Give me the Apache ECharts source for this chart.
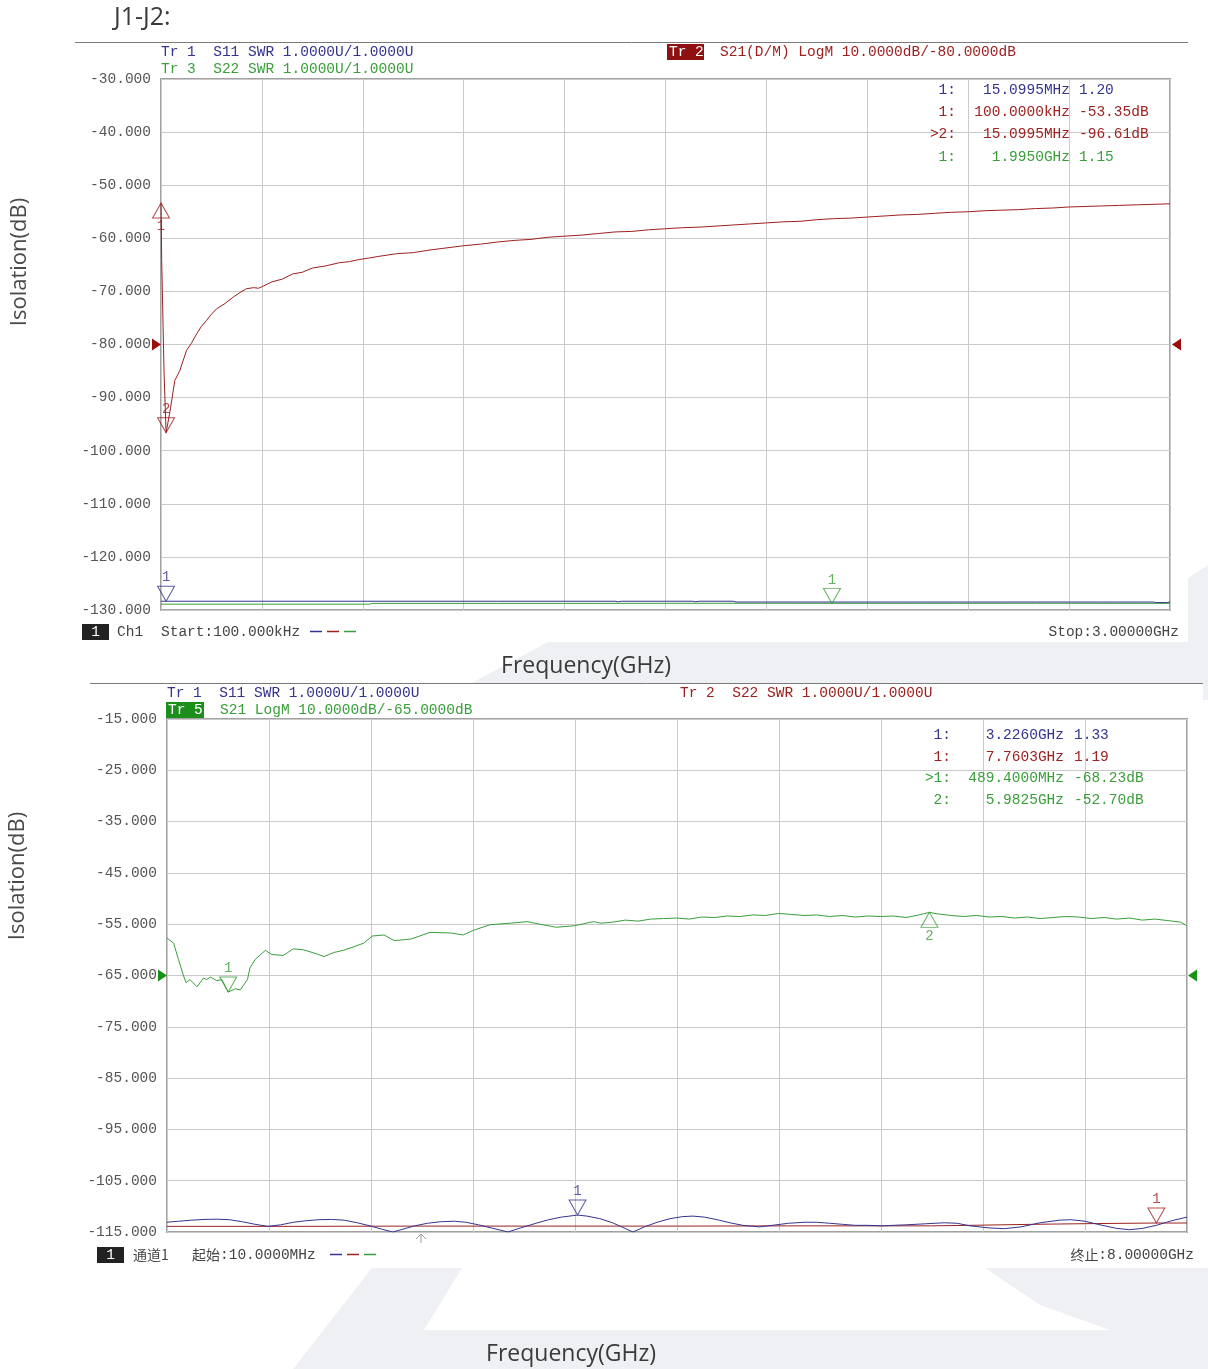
<!DOCTYPE html>
<html><head><meta charset="utf-8">
<script src="https://cdn.jsdelivr.net/npm/echarts@6/dist/echarts.min.js"></script>
<style>html,body{margin:0;padding:0;background:#fff}#c{width:1208px;height:1369px}</style>
</head><body><div id="c"></div>
<script>
// ---------- DATA ----------
// Top chart (100 kHz – 3 GHz)
const topYTicks = ['-130.000','-120.000','-110.000','-100.000','-90.000','-80.000','-70.000','-60.000','-50.000','-40.000','-30.000'];
const topS21 = [[0.0001,-53.35],[0.002,-64],[0.009,-85],[0.0151,-96.61],[0.027,-92.5],[0.041,-86.8],[0.056,-84.9],[0.076,-81.1],
 [0.09,-79.8],[0.106,-78.0],[0.12,-76.6],[0.135,-75.5],[0.15,-74.3],[0.165,-73.3],[0.19,-72.3],[0.214,-71.1],[0.235,-70.2],
 [0.254,-69.5],[0.275,-69.3],[0.29,-69.4],[0.301,-69.1],[0.33,-68.2],[0.36,-67.7],[0.392,-66.7],[0.42,-66.4],[0.45,-65.6],
 [0.49,-65.2],[0.53,-64.6],[0.56,-64.4],[0.589,-64.0],[0.62,-63.7],[0.648,-63.4],[0.70,-62.9],[0.75,-62.7],[0.80,-62.2],
 [0.85,-61.8],[0.90,-61.4],[0.95,-61.1],[1.00,-60.7],[1.05,-60.4],[1.10,-60.2],[1.15,-59.8],[1.20,-59.6],[1.25,-59.4],
 [1.30,-59.1],[1.35,-58.8],[1.40,-58.7],[1.45,-58.4],[1.50,-58.2],[1.55,-58.0],[1.60,-57.9],[1.65,-57.7],[1.70,-57.5],
 [1.75,-57.3],[1.80,-57.1],[1.85,-56.9],[1.90,-56.8],[1.95,-56.5],[2.00,-56.3],[2.05,-56.2],[2.10,-56.0],[2.15,-55.8],
 [2.20,-55.6],[2.25,-55.5],[2.30,-55.3],[2.35,-55.1],[2.40,-55.0],[2.45,-54.8],[2.50,-54.7],[2.55,-54.6],[2.60,-54.4],
 [2.65,-54.3],[2.70,-54.1],[2.75,-54.0],[2.80,-53.9],[2.85,-53.8],[2.90,-53.7],[2.95,-53.6],[3.00,-53.5]];
const topS11Swr = [[0.0001,1.165],[0.5,1.165],[1.0,1.165],[1.35,1.165],[1.36,1.155],[1.37,1.165],[1.58,1.165],[1.59,1.155],[1.60,1.165],
 [1.70,1.165],[1.71,1.15],[2.5,1.15],[2.95,1.15],[2.96,1.14],[2.99,1.14],[3.0,1.15]];
const topS22Swr = [[0.0001,1.11],[0.62,1.11],[0.63,1.125],[1.2,1.125],[1.8,1.127],[2.2,1.125],[2.6,1.127],[3.0,1.125]];
const topMarkers = [
 {yAxis:'db', f:0.0001, v:-53.35, name:'1', dir:'up', trace:'red'},
 {yAxis:'db', f:0.0151, v:-96.61, name:'2', dir:'down', trace:'red'},
 {yAxis:'swr', f:0.0151, v:1.165, name:'1', dir:'down', trace:'blue'},
 {yAxis:'swr', f:1.995, v:1.125, name:'1', dir:'down', trace:'green'}];
const topTable = [
 {pre:'1:', f:'15.0995MHz', v:'1.20', trace:'blue'},
 {pre:'1:', f:'100.0000kHz', v:'-53.35dB', trace:'red'},
 {pre:'>2:', f:'15.0995MHz', v:'-96.61dB', trace:'red'},
 {pre:'1:', f:'1.9950GHz', v:'1.15', trace:'green'}];

// Bottom chart (10 MHz – 8 GHz)
const botYTicks = ['-115.000','-105.000','-95.000','-85.000','-75.000','-65.000','-55.000','-45.000','-35.000','-25.000','-15.000'];
const botS21 = [[0.01,-57.7],[0.062,-58.7],[0.10,-61.9],[0.14,-65.1],[0.16,-66.4],[0.19,-65.8],[0.245,-67.2],[0.297,-65.5],
 [0.32,-65.8],[0.35,-65.3],[0.40,-66.0],[0.44,-65.8],[0.4894,-68.23],[0.545,-67.6],[0.584,-67.8],[0.64,-65.8],[0.66,-63.5],
 [0.70,-61.9],[0.78,-60.1],[0.83,-60.9],[0.92,-61.1],[1.00,-59.8],[1.08,-60.0],[1.16,-60.6],[1.24,-61.3],[1.32,-60.5],
 [1.39,-60.1],[1.45,-59.6],[1.55,-58.7],[1.62,-57.3],[1.71,-57.1],[1.79,-58.2],[1.92,-57.9],[2.07,-56.6],[2.23,-56.7],
 [2.33,-57.1],[2.41,-56.2],[2.54,-55.1],[2.70,-54.8],[2.83,-54.5],[2.91,-54.9],[3.06,-55.6],[3.20,-55.3],[3.35,-54.5],
 [3.41,-54.8],[3.5,-54.6],[3.6,-54.2],[3.7,-54.4],[3.8,-54.0],[3.9,-53.9],[4.0,-53.8],[4.1,-54.0],[4.2,-53.6],[4.3,-53.7],
 [4.4,-53.4],[4.5,-53.5],[4.6,-53.2],[4.7,-53.3],[4.8,-52.9],[4.9,-53.1],[5.0,-53.3],[5.1,-53.2],[5.2,-53.5],[5.3,-53.3],
 [5.4,-53.6],[5.5,-53.4],[5.6,-53.5],[5.7,-53.4],[5.8,-53.7],[5.9,-53.2],[5.9825,-52.7],[6.05,-53.0],[6.15,-53.3],
 [6.25,-53.5],[6.35,-53.3],[6.45,-53.6],[6.55,-53.5],[6.65,-53.8],[6.75,-53.6],[6.85,-53.9],[6.95,-53.7],[7.05,-53.5],
 [7.15,-53.6],[7.25,-53.9],[7.35,-53.7],[7.45,-54.0],[7.55,-53.8],[7.65,-54.2],[7.75,-54.0],[7.85,-54.3],[7.95,-54.6],[8.0,-55.3]];
const botS11Swr = [[0.01,1.19],[0.1,1.21],[0.2,1.23],[0.3,1.245],[0.4,1.25],[0.5,1.24],[0.6,1.20],[0.7,1.15],[0.8,1.11],
 [0.9,1.14],[1.0,1.19],[1.1,1.22],[1.2,1.24],[1.3,1.245],[1.4,1.23],[1.5,1.18],[1.6,1.12],[1.7,1.05],[1.78,1.0],[1.85,1.05],
 [1.95,1.12],[2.05,1.17],[2.15,1.20],[2.26,1.21],[2.35,1.19],[2.45,1.14],[2.55,1.08],[2.68,1.0],[2.78,1.08],[2.9,1.17],
 [3.0,1.24],[3.1,1.29],[3.226,1.33],[3.3,1.31],[3.4,1.26],[3.5,1.18],[3.58,1.09],[3.66,1.0],[3.75,1.10],[3.85,1.19],
 [3.95,1.26],[4.05,1.30],[4.13,1.31],[4.22,1.29],[4.32,1.24],[4.42,1.18],[4.52,1.13],[4.65,1.10],[4.75,1.13],[4.88,1.17],
 [5.0,1.19],[5.1,1.19],[5.2,1.17],[5.3,1.15],[5.4,1.13],[5.5,1.13],[5.6,1.12],[5.7,1.13],[5.8,1.14],[5.95,1.16],[6.1,1.18],
 [6.2,1.17],[6.3,1.12],[6.45,1.08],[6.57,1.065],[6.7,1.10],[6.85,1.18],[7.0,1.23],[7.09,1.24],[7.2,1.21],[7.3,1.15],
 [7.45,1.07],[7.55,1.045],[7.65,1.07],[7.76,1.13],[7.88,1.22],[8.0,1.29]];
const botS22Swr = [[0.01,1.11],[1.0,1.11],[2.0,1.115],[3.0,1.115],[4.0,1.115],[5.0,1.12],[6.0,1.12],[6.3,1.13],[6.8,1.15],
 [7.3,1.165],[7.7603,1.175],[8.0,1.175]];
const botMarkers = [
 {yAxis:'db', f:0.4894, v:-68.23, name:'1', dir:'down', trace:'green'},
 {yAxis:'db', f:5.9825, v:-52.70, name:'2', dir:'up', trace:'green'},
 {yAxis:'swr', f:3.226, v:1.33, name:'1', dir:'down', trace:'blue'},
 {yAxis:'swr', f:7.7603, v:1.175, name:'1', dir:'down', trace:'red'}];
const botTable = [
 {pre:'1:', f:'3.2260GHz', v:'1.33', trace:'blue'},
 {pre:'1:', f:'7.7603GHz', v:'1.19', trace:'red'},
 {pre:'>1:', f:'489.4000MHz', v:'-68.23dB', trace:'green'},
 {pre:'2:', f:'5.9825GHz', v:'-52.70dB', trace:'green'}];

// ---------- STYLE ----------
const C = {blue:'#34348f', red:'#9e2020', green:'#3a9e3a'};
const MONO = '"Liberation Mono", monospace';
const SANS = '"Open Sans", "Noto Sans", sans-serif';
const CJK = '"Noto Sans CJK SC", sans-serif';
const GRID_LINE = '#cacaca';

const chart = echarts.init(document.getElementById('c'), null, {renderer:'canvas'});

function line(data, color, xi, yi) {
  return {type:'line', data, xAxisIndex:xi, yAxisIndex:yi, showSymbol:false, symbol:'none',
    lineStyle:{color, width:1}, itemStyle:{color}, animation:false, z:3, silent:true};
}
const TRI_DOWN = 'path://M0,0L18,0L9,16Z';
const TRI_UP = 'path://M9,0L18,16L0,16Z';
function markers(list, xi, yiDb, yiSwr) {
  return list.map(m => ({type:'scatter', xAxisIndex:xi, yAxisIndex: m.yAxis==='db'?yiDb:yiSwr,
    data:[[m.f, m.v]], symbol: m.dir==='down'?TRI_DOWN:TRI_UP, symbolSize:[17,15],
    symbolOffset:[0, m.dir==='down'?-7.5:7.5], animation:false, z:5, silent:true,
    itemStyle:{color:'rgba(0,0,0,0)', borderColor:C[m.trace], borderWidth:1},
    label:{show:true, formatter:m.name, position: m.dir==='down'?'top':'bottom', distance:1,
      color:C[m.trace], fontFamily:MONO, fontSize:14}}));
}

const xGridAxis = (gi, max) => ({type:'value', gridIndex:gi, min:0, max, interval:max/10,
  axisLine:{show:false}, axisTick:{show:false}, axisLabel:{show:false},
  splitLine:{show:true, lineStyle:{color:GRID_LINE, width:1}}});
const hidden = (gi, min, max) => ({type:'value', gridIndex:gi, min, max, show:false, splitLine:{show:false}});

chart.setOption({
  animation:false,
  backgroundColor:'transparent',
  grid:[
    {left:161, top:79, width:1009, height:531, show:true, borderColor:'#a2a2a2', borderWidth:2, backgroundColor:'transparent'},
    {left:167, top:719, width:1020, height:513, show:true, borderColor:'#a2a2a2', borderWidth:2, backgroundColor:'transparent'}
  ],
  xAxis:[
    xGridAxis(0, 3),               // 0: top, frequency GHz
    hidden(1, 0.01, 8),            // 1: bottom data axis GHz
    xGridAxis(1, 10)               // 2: bottom grid divisions
  ],
  yAxis:[
    {type:'value', gridIndex:0, min:0, max:10, interval:1, axisLine:{show:false}, axisTick:{show:false},
      axisLabel:{formatter:v=>topYTicks[Math.round(v)], color:'#555', fontFamily:MONO, fontSize:14.5, margin:10},
      splitLine:{show:true, lineStyle:{color:GRID_LINE}}},                    // 0 top grid/labels
    hidden(0, -130, -30),          // 1 top dB
    hidden(0, 1, 11),              // 2 top SWR
    {type:'value', gridIndex:1, min:0, max:10, interval:1, axisLine:{show:false}, axisTick:{show:false},
      axisLabel:{formatter:v=>botYTicks[Math.round(v)], color:'#555', fontFamily:MONO, fontSize:14.5, margin:10},
      splitLine:{show:true, lineStyle:{color:GRID_LINE}}},                    // 3 bottom grid/labels
    hidden(1, -115, -15),          // 4 bottom dB
    hidden(1, 1, 11)               // 5 bottom SWR
  ],
  series:[
    line(topS22Swr, C.green, 0, 2),
    line(topS11Swr, C.blue, 0, 2),
    line(topS21, C.red, 0, 1),
    line(botS22Swr, C.red, 1, 5),
    line(botS11Swr, C.blue, 1, 5),
    line(botS21, C.green, 1, 4),
    ...markers(topMarkers, 0, 1, 2),
    ...markers(botMarkers, 1, 4, 5)
  ]
});

// ---------- DECORATION / TEXT ----------
const g = [];
const WM = '#eff0f4';
// faint background watermark
g.push({type:'polygon', z:-20, shape:{points:[[440,700],[548,642],[1188,642],[1188,578],[1208,565],[1208,700]]}, style:{fill:WM}});
g.push({type:'polygon', z:-20, shape:{points:[[293,1369],[372,1268],[462,1268],[400,1369]]}, style:{fill:WM}});
g.push({type:'polygon', z:-20, shape:{points:[[360,1330],[1208,1330],[1208,1369],[330,1369]]}, style:{fill:WM}});
g.push({type:'polygon', z:-20, shape:{points:[[985,1268],[1208,1268],[1208,1330],[1110,1330],[1040,1305]]}, style:{fill:WM}});
// screenshot white areas
g.push({type:'rect', z:-10, shape:{x:75,y:42,width:1113,height:600}, style:{fill:'#fff'}});
g.push({type:'rect', z:-10, shape:{x:90,y:683,width:1113,height:585}, style:{fill:'#fff'}});
// separator lines
g.push({type:'line', z:1, shape:{x1:75,y1:42.5,x2:1188,y2:42.5}, style:{stroke:'#7a7a7a', lineWidth:1}});
g.push({type:'line', z:1, shape:{x1:90,y1:683.5,x2:1203,y2:683.5}, style:{stroke:'#7a7a7a', lineWidth:1}});

function txt(text, x, y, fill, font, align) {
  g.push({type:'text', z:10, x, y, style:{text, fill, font, textAlign:align||'left', textVerticalAlign:'middle', align:align||'left', verticalAlign:'middle'}});
}
const MF = '14.5px ' + MONO;
// titles
txt('J1-J2:', 114, 18, '#3a3a3a', '25px ' + SANS);
txt('Frequency(GHz)', 586, 666, '#3a3a3a', '23px ' + SANS, 'center');
txt('Frequency(GHz)', 571, 1354, '#3a3a3a', '23px ' + SANS, 'center');
g.push({type:'text', z:10, x:20, y:262, rotation:Math.PI/2, style:{text:'Isolation(dB)', fill:'#4a4a4a', font:'22px '+SANS, textAlign:'center', textVerticalAlign:'middle', align:'center', verticalAlign:'middle'}});
g.push({type:'text', z:10, x:18, y:876, rotation:Math.PI/2, style:{text:'Isolation(dB)', fill:'#4a4a4a', font:'22px '+SANS, textAlign:'center', textVerticalAlign:'middle', align:'center', verticalAlign:'middle'}});

// top header
txt('Tr 1  S11 SWR 1.0000U/1.0000U', 161, 52, C.blue, MF);
txt('Tr 3  S22 SWR 1.0000U/1.0000U', 161, 69, C.green, MF);
g.push({type:'rect', z:9, shape:{x:667,y:44,width:37,height:16}, style:{fill:'#8e1010'}});
txt('Tr 2', 669, 52, '#fff', MF);
txt('S21(D/M) LogM 10.0000dB/-80.0000dB', 720, 52, C.red, MF);
// top marker table
topTable.forEach((r,i)=>{ const y = 90 + i*22.3;
  txt(r.pre, 956, y, C[r.trace], MF, 'right');
  txt(r.f, 1070, y, C[r.trace], MF, 'right');
  txt(r.v, 1079, y, C[r.trace], MF);
});
// top footer
g.push({type:'rect', z:9, shape:{x:82,y:624,width:27,height:16}, style:{fill:'#222'}});
txt('1', 95.5, 632, '#fff', MF, 'center');
txt('Ch1', 117, 632, '#444', MF);
txt('Start:100.000kHz', 161, 632, '#444', MF);
[['blue',310],['red',327],['green',344]].forEach(([c,x])=>g.push({type:'line', z:9, shape:{x1:x,y1:631.5,x2:x+12,y2:631.5}, style:{stroke:C[c], lineWidth:1.5}}));
txt('Stop:3.00000GHz', 1179, 632, '#444', MF, 'right');

// bottom header
txt('Tr 1  S11 SWR 1.0000U/1.0000U', 167, 693, C.blue, MF);
g.push({type:'rect', z:9, shape:{x:166,y:702,width:38,height:16}, style:{fill:'#1b8e1b'}});
txt('Tr 5', 168, 710, '#fff', MF);
txt('S21 LogM 10.0000dB/-65.0000dB', 220, 710, C.green, MF);
txt('Tr 2  S22 SWR 1.0000U/1.0000U', 680, 693, C.red, MF);
// bottom marker table
botTable.forEach((r,i)=>{ const y = 735 + i*21.8;
  txt(r.pre, 951, y, C[r.trace], MF, 'right');
  txt(r.f, 1064, y, C[r.trace], MF, 'right');
  txt(r.v, 1074, y, C[r.trace], MF);
});
// bottom footer
g.push({type:'rect', z:9, shape:{x:97,y:1247,width:27,height:16}, style:{fill:'#222'}});
txt('1', 110.5, 1255, '#fff', MF, 'center');
txt('通道1', 133, 1255, '#444', '14px ' + CJK);
txt('起始', 192, 1255, '#444', '14px ' + CJK);
txt(':10.0000MHz', 220, 1255, '#444', MF);
[['blue',330],['red',347],['green',364]].forEach(([c,x])=>g.push({type:'line', z:9, shape:{x1:x,y1:1254.5,x2:x+12,y2:1254.5}, style:{stroke:C[c], lineWidth:1.5}}));
txt(':8.00000GHz', 1194, 1255, '#444', MF, 'right');
txt('终止', 1098.5, 1255, '#444', '14px ' + CJK, 'right');
// small grey arrow under bottom axis
g.push({type:'polyline', z:9, shape:{points:[[416,1239],[421,1234],[426,1239]]}, style:{stroke:'#999', lineWidth:1, fill:null}});
g.push({type:'line', z:9, shape:{x1:421,y1:1234,x2:421,y2:1243}, style:{stroke:'#999', lineWidth:1}});

// reference-level arrows tied to axis scale
const yTopRef = chart.convertToPixel({yAxisIndex:1}, -80);
const xTopL = chart.convertToPixel({xAxisIndex:0}, 0), xTopR = chart.convertToPixel({xAxisIndex:0}, 3);
const yBotRef = chart.convertToPixel({yAxisIndex:4}, -65);
const xBotL = chart.convertToPixel({xAxisIndex:1}, 0.01), xBotR = chart.convertToPixel({xAxisIndex:1}, 8);
function arrow(x, y, dir, color) {
  const pts = dir==='right' ? [[x-9,y-6],[x,y],[x-9,y+6]] : [[x+9,y-6],[x,y],[x+9,y+6]];
  g.push({type:'polygon', z:9, shape:{points:pts}, style:{fill:color}});
}
arrow(xTopL, yTopRef, 'right', '#9a0d0d');
arrow(xTopR+2, yTopRef, 'left', '#9a0d0d');
arrow(xBotL, yBotRef, 'right', '#169216');
arrow(xBotR+1, yBotRef, 'left', '#169216');

chart.setOption({graphic: g});
</script></body></html>
